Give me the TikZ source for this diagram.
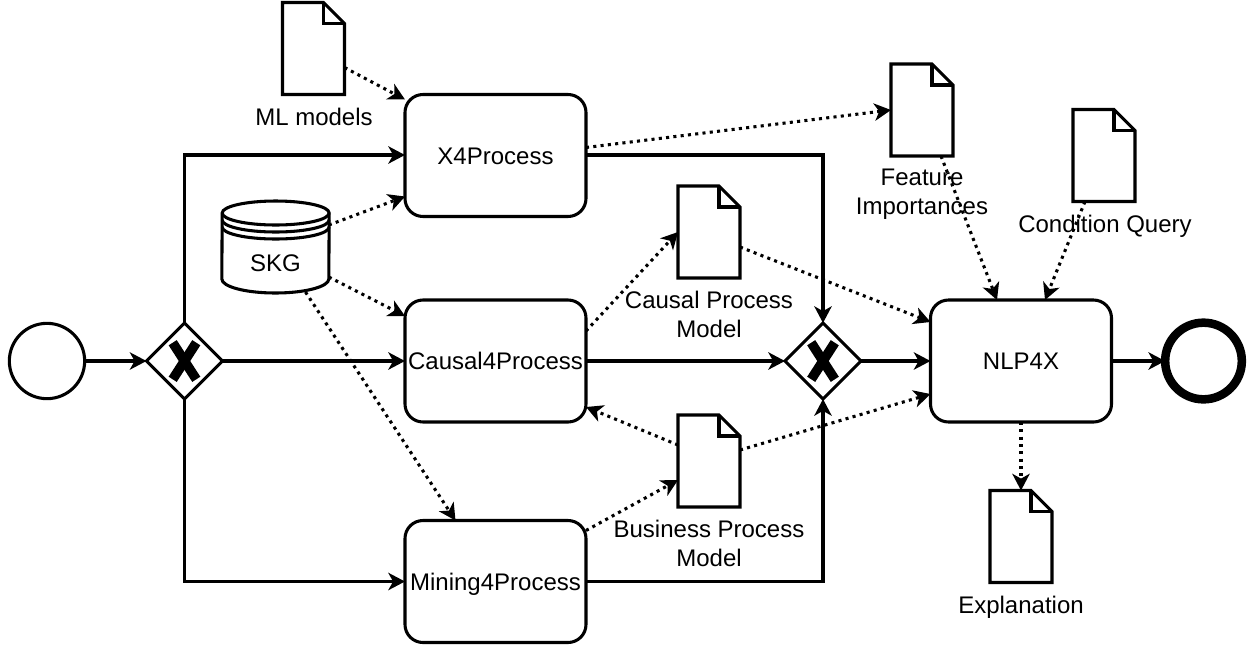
\documentclass[tikz,border=0pt]{standalone}
\usepackage{fontspec}
\setmainfont{Liberation Sans}
\usetikzlibrary{arrows.meta,shapes.geometric}
\tikzset{
  x=0.75pt,y=-0.75pt,
  every node/.style={inner sep=0pt,outer sep=0pt,font=\fontsize{18}{21.75}\selectfont},
  stroke/.style={draw=black,line width=2.3pt},
  taskbox/.style={stroke,rounded corners=13.5pt,minimum width=135.75pt,minimum height=91.5pt,align=center,text height=12.9pt,text depth=0pt},
  startev/.style={stroke,circle,minimum size=56.5pt},
  endev/.style={draw=black,line width=6.4pt,circle,minimum size=57.5pt},
  gate/.style={stroke,diamond,aspect=1,minimum size=57pt,fill=white},
  docbox/.style={minimum width=46.5pt,minimum height=69pt},
  dbbox/.style={minimum width=80pt,minimum height=69pt},
  lbl/.style={align=center},
  tip/.style={-{Stealth[length=12.5pt,width=13pt,inset=3.6pt]}},
  flow/.style={stroke,tip,line join=miter},
  dataflow/.style={stroke,tip,dash pattern=on 2.3pt off 3.2pt},
}
\newcommand{\docshape}[1]{%
  \draw[stroke,line join=miter,fill=white]
    (#1.north west) -- ([shift={(-21,0)}]#1.north east) -- ([shift={(0,21)}]#1.north east)
    -- (#1.south east) -- (#1.south west) -- cycle;
  \draw[stroke,line join=miter] ([shift={(-21,0)}]#1.north east) -- ([shift={(-21,21)}]#1.north east) -- ([shift={(0,21)}]#1.north east);
}
\newcommand{\gatemark}[1]{%
  \draw[line width=7.2pt] ([shift={(-11.8,-18.3)}]#1.center) -- ([shift={(11.8,18.3)}]#1.center);
  \draw[line width=7.2pt] ([shift={(11.8,-18.3)}]#1.center) -- ([shift={(-11.8,18.3)}]#1.center);
}
\begin{document}
\begin{tikzpicture}
\useasboundingbox (0,0) rectangle (1250,644);
% labels
\node[lbl] (lml) at (314,117) {ML models};
\node[lbl] (lfi) at (922,194.5) {Feature\\Importances};
\node[lbl] (lcq) at (1105,226.5) {Condition Query};
\node[lbl] (lcp) at (709,314.5) {Causal Process\\Model};
\node[lbl] (lbp) at (709,543) {Business Process\\Model};
\node[lbl] (lex) at (1021,607.5) {Explanation};
% events, gateways, tasks
\node[startev] (start) at (47,361) {};
\node[endev] (end) at (1203.5,361) {};
\node[gate] (g1) at (184.5,361) {};
\node[gate] (g2) at (823,361) {};
\gatemark{g1}
\gatemark{g2}
\node[taskbox] (x4) at (495.5,155.5) {X4Process};
\node[taskbox] (c4) at (495.5,361) {Causal4Process};
\node[taskbox] (m4) at (495.5,581.5) {Mining4Process};
\node[taskbox] (nlp) at (1021,361) {NLP4X};
% documents
\node[docbox] (dml) at (313.5,48.5) {};
\node[docbox] (dfi) at (922,110) {};
\node[docbox] (dcq) at (1104,155.5) {};
\node[docbox] (dcp) at (709,232) {};
\node[docbox] (dbp) at (709,461) {};
\node[docbox] (dex) at (1021,536.5) {};
\docshape{dml}\docshape{dfi}\docshape{dcq}\docshape{dcp}\docshape{dbp}\docshape{dex}
% database
\node[dbbox] (skg) at (275.5,247) {};
\draw[stroke] ([shift={(0,12)}]skg.north west) arc[start angle=180,end angle=360,x radius=53.5,y radius=12]
  -- ([shift={(0,-14)}]skg.south east) arc[start angle=0,end angle=180,x radius=53.5,y radius=14] -- cycle;
\draw[stroke] ([shift={(0,12)}]skg.north west) arc[start angle=180,end angle=0,x radius=53.5,y radius=12];
\draw[stroke] ([shift={(0,19)}]skg.north west) arc[start angle=180,end angle=0,x radius=53.5,y radius=12];
\draw[stroke] ([shift={(0,26)}]skg.north west) arc[start angle=180,end angle=0,x radius=53.5,y radius=12];
\node (skgl) at (275.5,263) {SKG};
% sequence flows
\draw[flow] (start) -- (g1);
\draw[flow] (g1) -- (c4);
\draw[flow] (g1.north) |- ([shift={(0,-0.5)}]x4.west);
\draw[flow] (g1.south) |- (m4.west);
\draw[flow] ([shift={(0,-0.5)}]x4.east) -| (g2.north);
\draw[flow] (c4) -- (g2);
\draw[flow] (m4.east) -| (g2.south);
\draw[flow] (g2) -- (nlp);
\draw[flow] (nlp) -- (end);
% data flows
\draw[dataflow] ([shift={(0,19)}]dml.east) -- ([shift={(0,-56)}]x4.west);
\draw[dataflow] ([shift={(0,-22)}]skg.east) -- ([shift={(0,41)}]x4.west);
\draw[dataflow] ([shift={(0,30)}]skg.east) -- ([shift={(0,-45)}]c4.west);
\draw[dataflow] ([shift={(30,45)}]skg.center) -- ([shift={(-40,0)}]m4.north);
\draw[dataflow] ([shift={(0,-8)}]x4.east) -- (dfi.west);
\draw[dataflow] ([shift={(0,-30)}]c4.east) -- (dcp.west);
\draw[dataflow] ([shift={(0,15)}]dcp.east) -- ([shift={(0,-39)}]nlp.west);
\draw[dataflow] ([shift={(0,-16)}]dbp.west) -- ([shift={(0,46)}]c4.east);
\draw[dataflow] ([shift={(0,-11)}]dbp.east) -- ([shift={(0,33)}]nlp.west);
\draw[dataflow] ([shift={(0,-51)}]m4.east) -- ([shift={(0,19)}]dbp.west);
\draw[dataflow] ([shift={(19,0)}]dfi.south) -- ([shift={(-24,0)}]nlp.north);
\draw[dataflow] ([shift={(-19,0)}]dcq.south) -- ([shift={(24,0)}]nlp.north);
\draw[dataflow] (nlp.south) -- (dex.north);
\end{tikzpicture}
\end{document}
